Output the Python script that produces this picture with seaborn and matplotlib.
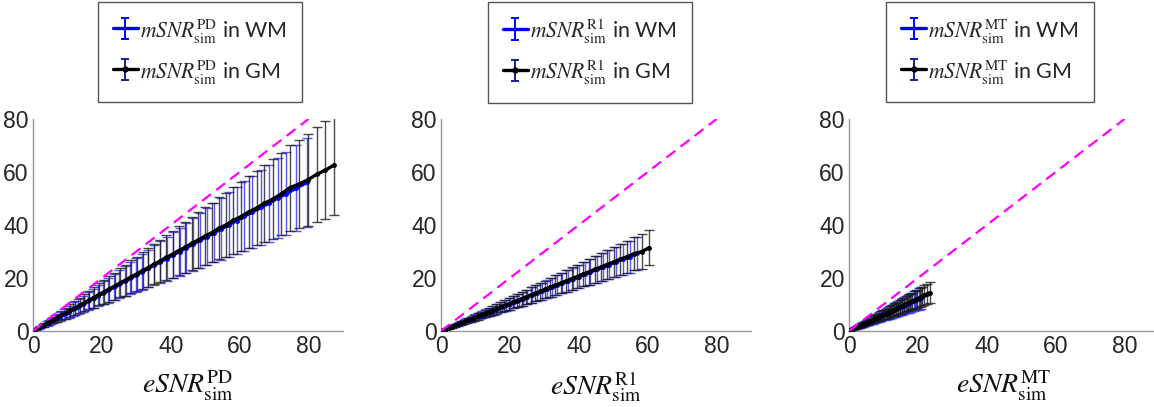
import numpy as np
import pandas as pd
import matplotlib
matplotlib.use("Agg")
import matplotlib.pyplot as plt
import seaborn as sns

# ---- PD contrast -------------------------------------------------------
pd_wm_x = [0.6, 1.7, 2.9, 4.1, 5.3, 6.5, 7.8, 9.1, 10.4, 11.7, 13.1, 14.5, 15.9, 17.4,
           18.9, 20.4, 21.9, 23.5, 25.1, 26.7, 28.3, 30.0, 31.7, 33.4, 35.2, 37.0, 38.8,
           40.7, 42.6, 44.5, 46.5, 48.5, 50.5, 52.6, 54.7, 56.9, 59.1, 61.4, 63.7, 66.1,
           68.5, 71.0, 73.5, 76.4, 79.6]
pd_wm_y = [0.42, 1.22, 2.02, 2.91, 3.72, 4.61, 5.47, 6.45, 7.30, 8.29, 9.21, 10.26, 11.18,
           12.31, 13.28, 14.42, 15.40, 16.61, 17.66, 18.87, 19.91, 21.19, 22.31, 23.60, 24.78,
           26.14, 27.31, 28.74, 29.98, 31.42, 32.72, 34.25, 35.55, 37.14, 38.50, 40.18, 41.60,
           43.35, 44.84, 46.68, 48.20, 50.15, 51.70, 53.95, 56.05]
pd_wm_sd = [0.13, 0.36, 0.62, 0.87, 1.13, 1.38, 1.66, 1.94, 2.22, 2.49, 2.79, 3.09, 3.39,
            3.71, 4.03, 4.35, 4.66, 5.01, 5.35, 5.69, 6.03, 6.39, 6.75, 7.11, 7.50, 7.88, 8.26,
            8.67, 9.07, 9.48, 9.90, 10.33, 10.76, 11.20, 11.65, 12.12, 12.59, 13.08, 13.57,
            14.08, 14.59, 15.12, 15.66, 16.27, 16.95]

pd_gm_x = [0.9, 2.1, 3.3, 4.5, 5.7, 6.9, 8.2, 9.5, 10.8, 12.1, 13.5, 14.9, 16.3, 17.7, 19.2,
           20.7, 22.2, 23.7, 25.3, 26.9, 28.5, 30.1, 31.8, 33.5, 35.2, 36.9, 38.7, 40.5, 42.3,
           44.2, 46.1, 48.0, 50.0, 52.0, 54.0, 56.1, 58.2, 60.4, 62.6, 64.9, 67.2, 69.6, 72.0,
           74.6, 77.3, 79.9, 82.5, 84.9, 87.3]
pd_gm_y = [0.66, 1.48, 2.40, 3.19, 4.12, 4.91, 5.90, 6.76, 7.78, 8.62, 9.71, 10.63, 11.72,
           12.61, 13.80, 14.77, 15.95, 16.90, 18.18, 19.20, 20.48, 21.50, 22.85, 23.92, 25.28,
           26.35, 27.80, 28.93, 30.36, 31.58, 33.10, 34.30, 35.88, 37.15, 38.75, 40.08, 41.78,
           43.16, 44.92, 46.40, 48.22, 49.75, 51.66, 54.10, 55.48, 57.12, 59.20, 60.70, 62.55]
pd_gm_sd = [0.20, 0.46, 0.72, 0.98, 1.24, 1.50, 1.78, 2.06, 2.34, 2.63, 2.93, 3.23, 3.54,
            3.84, 4.17, 4.49, 4.82, 5.14, 5.49, 5.84, 6.18, 6.53, 6.90, 7.27, 7.64, 8.01, 8.40,
            8.79, 9.18, 9.59, 10.00, 10.42, 10.85, 11.28, 11.72, 12.17, 12.63, 13.11, 13.58,
            14.08, 14.58, 15.10, 15.62, 16.19, 16.77, 17.34, 17.90, 18.42, 18.94]

# ---- R1 contrast -------------------------------------------------------
r1_wm_x = [0.5, 1.2, 2.0, 2.8, 3.6, 4.4, 5.3, 6.2, 7.1, 8.0, 9.0, 10.0, 11.0, 12.0, 13.1,
           14.2, 15.3, 16.4, 17.6, 18.8, 20.0, 21.2, 22.5, 23.8, 25.1, 26.5, 27.9, 29.3,
           30.7, 32.2, 33.7, 35.2, 36.8, 38.4, 40.0, 41.7, 43.4, 45.2, 47.0, 48.8, 50.7,
           52.7, 54.8, 57.0]
r1_wm_y = [0.26, 0.63, 1.02, 1.45, 1.84, 2.27, 2.71, 3.20, 3.62, 4.12, 4.60, 5.15, 5.62,
           6.18, 6.70, 7.30, 7.83, 8.44, 9.01, 9.66, 10.24, 10.90, 11.52, 12.24, 12.85, 13.62,
           14.28, 15.06, 15.72, 16.55, 17.26, 18.09, 18.85, 19.73, 20.49, 21.42, 22.23, 23.22,
           24.08, 25.06, 25.98, 27.08, 28.08, 29.27]
r1_wm_sd = [0.06, 0.13, 0.22, 0.31, 0.40, 0.48, 0.58, 0.68, 0.78, 0.88, 0.99, 1.10, 1.21,
            1.32, 1.44, 1.56, 1.68, 1.80, 1.94, 2.07, 2.20, 2.33, 2.48, 2.62, 2.76, 2.92, 3.07,
            3.22, 3.38, 3.54, 3.71, 3.87, 4.05, 4.22, 4.40, 4.59, 4.77, 4.97, 5.17, 5.37, 5.58,
            5.80, 6.03, 6.27]

r1_gm_x = [0.7, 1.5, 2.3, 3.1, 4.0, 4.9, 5.8, 6.7, 7.6, 8.6, 9.6, 10.6, 11.6, 12.7, 13.8,
           14.9, 16.0, 17.2, 18.4, 19.6, 20.8, 22.1, 23.4, 24.7, 26.0, 27.4, 28.8, 30.2, 31.7,
           33.2, 34.7, 36.3, 37.9, 39.5, 41.2, 42.9, 44.6, 46.4, 48.2, 50.1, 52.0, 54.0, 56.1,
           58.3, 60.5]
r1_gm_y = [0.37, 0.77, 1.21, 1.60, 2.10, 2.53, 3.04, 3.46, 3.97, 4.45, 5.01, 5.49, 6.05,
           6.58, 7.20, 7.73, 8.34, 8.92, 9.59, 10.16, 10.85, 11.46, 12.20, 12.81, 13.55,
           14.22, 15.01, 15.67, 16.51, 17.23, 18.07, 18.85, 19.74, 20.50, 21.45, 22.28, 23.22,
           24.10, 25.09, 26.02, 27.08, 28.04, 29.20, 29.95, 31.50]
r1_gm_sd = [0.08, 0.17, 0.26, 0.35, 0.45, 0.55, 0.65, 0.75, 0.85, 0.96, 1.08, 1.19, 1.30,
            1.42, 1.55, 1.67, 1.79, 1.93, 2.06, 2.20, 2.33, 2.48, 2.62, 2.77, 2.91, 3.07, 3.23,
            3.38, 3.55, 3.72, 3.89, 4.07, 4.24, 4.42, 4.61, 4.80, 5.00, 5.20, 5.40, 5.61, 5.82,
            6.05, 6.28, 6.53, 6.78]

# ---- MT contrast -------------------------------------------------------
mt_wm_x = [0.2, 0.7, 1.2, 1.7, 2.2, 2.7, 3.2, 3.7, 4.2, 4.7, 5.2, 5.8, 6.4, 7.0, 7.6, 8.2,
           8.8, 9.4, 10.0, 10.6, 11.2, 11.8, 12.4, 13.0, 13.6, 14.2, 14.8, 15.4, 16.0, 16.7,
           17.4, 18.1, 18.8, 19.5, 20.2, 20.9]
mt_wm_y = [0.13, 0.41, 0.73, 1.01, 1.33, 1.61, 1.93, 2.21, 2.53, 2.81, 3.13, 3.47, 3.85,
           4.19, 4.57, 4.91, 5.29, 5.63, 6.01, 6.35, 6.73, 7.07, 7.45, 7.79, 8.17, 8.51, 8.89,
           9.23, 9.61, 10.01, 10.45, 10.85, 11.29, 11.69, 12.13, 12.53]
mt_wm_sd = [0.04, 0.14, 0.24, 0.34, 0.44, 0.54, 0.64, 0.74, 0.84, 0.94, 1.04, 1.16, 1.28,
            1.40, 1.52, 1.64, 1.76, 1.88, 2.00, 2.12, 2.24, 2.36, 2.48, 2.60, 2.72, 2.84, 2.96,
            3.08, 3.20, 3.34, 3.48, 3.62, 3.76, 3.90, 4.04, 4.18]

mt_gm_x = [0.3, 0.8, 1.3, 1.8, 2.3, 2.8, 3.3, 3.8, 4.3, 4.8, 5.3, 5.8, 6.4, 7.0, 7.6, 8.2,
           8.8, 9.4, 10.0, 10.6, 11.2, 11.8, 12.4, 13.0, 13.6, 14.2, 14.8, 15.4, 16.0, 16.6,
           17.2, 17.8, 18.4, 19.1, 19.8, 20.5, 21.2, 21.9, 22.7, 23.5]
mt_gm_y = [0.19, 0.48, 0.81, 1.10, 1.42, 1.71, 2.04, 2.33, 2.65, 2.94, 3.27, 3.56, 3.95,
           4.30, 4.68, 5.03, 5.42, 5.77, 6.16, 6.51, 6.90, 7.25, 7.64, 7.99, 8.37, 8.72, 9.11,
           9.46, 9.85, 10.20, 10.59, 10.94, 11.33, 11.74, 12.19, 12.60, 13.05, 13.46, 13.97,
           14.45]
mt_gm_sd = [0.05, 0.14, 0.22, 0.31, 0.39, 0.48, 0.56, 0.65, 0.73, 0.82, 0.90, 0.99, 1.09,
            1.19, 1.29, 1.39, 1.50, 1.60, 1.70, 1.80, 1.90, 2.01, 2.11, 2.21, 2.31, 2.41, 2.52,
            2.62, 2.72, 2.82, 2.92, 3.03, 3.13, 3.25, 3.37, 3.49, 3.60, 3.72, 3.86, 4.00]

# identity reference line
ident_x = [0, 80]
ident_y = [0, 80]

contrasts = ["PD", "R1", "MT"]
ticks = [0, 20, 40, 60, 80]

panels = [
    (pd_wm_x, pd_wm_y, pd_wm_sd, pd_gm_x, pd_gm_y, pd_gm_sd),
    (r1_wm_x, r1_wm_y, r1_wm_sd, r1_gm_x, r1_gm_y, r1_gm_sd),
    (mt_wm_x, mt_wm_y, mt_wm_sd, mt_gm_x, mt_gm_y, mt_gm_sd),
]

sns.set_style("white")
plt.rcParams["font.family"] = ["Liberation Sans", "DejaVu Sans"]
plt.rcParams["mathtext.fontset"] = "stix"

W, H = 1154, 407
fig = plt.figure(figsize=(W / 100, H / 100), dpi=100)

ax_left_px = [33, 441, 849]
legend_cx_px = [200, 590, 990]
ax_w_px, ax_top_px, ax_bot_px = 310, 119, 331

WM_COLOR = "#0000ff"
GM_COLOR = "#000000"

for i, (name, data) in enumerate(zip(contrasts, panels)):
    wx, wy, wsd, gx, gy, gsd = data
    ax = fig.add_axes([ax_left_px[i] / W, (H - ax_bot_px) / H,
                       ax_w_px / W, (ax_bot_px - ax_top_px) / H])

    wm = pd.DataFrame({"esnr": wx, "msnr": wy, "sd": wsd})
    gm = pd.DataFrame({"esnr": gx, "msnr": gy, "sd": gsd})

    # error bars (mean +/- SD)
    ax.errorbar(wm["esnr"], wm["msnr"], yerr=wm["sd"], fmt="none",
                ecolor="#3a3aff", elinewidth=1.0, capsize=3.5, capthick=1.0,
                alpha=0.85, zorder=2)
    ax.errorbar(gm["esnr"], gm["msnr"], yerr=gm["sd"], fmt="none",
                ecolor="#1a1a1a", elinewidth=1.0, capsize=3.5, capthick=1.0,
                alpha=0.8, zorder=2.1)

    # mean curves
    sns.lineplot(data=wm, x="esnr", y="msnr", ax=ax, color=WM_COLOR, lw=2.4,
                 marker="o", markersize=3.5, markeredgewidth=0, sort=False,
                 errorbar=None, legend=False, zorder=3)
    sns.lineplot(data=gm, x="esnr", y="msnr", ax=ax, color=GM_COLOR, lw=2.4,
                 marker="o", markersize=3.5, markeredgewidth=0, sort=False,
                 errorbar=None, legend=False, zorder=3.1)

    # identity line
    sns.lineplot(x=ident_x, y=ident_y, ax=ax, color="#ff00ff", lw=1.6,
                 linestyle=(0, (5, 3)), legend=False, zorder=4)

    # legend proxies placed outside the visible range
    h_wm = ax.errorbar([-50], [-50], yerr=[1], fmt="-", color=WM_COLOR, lw=2.4,
                       ecolor=WM_COLOR, elinewidth=1.4, capsize=3, capthick=1.4)
    h_gm = ax.errorbar([-50], [-50], yerr=[1], fmt="-o", color=GM_COLOR, lw=2.4,
                       markersize=3.5, ecolor="#1c1c8c", elinewidth=1.4,
                       capsize=3, capthick=1.4)
    lab = r"$mSNR^{\mathrm{%s}}_{\mathrm{sim}}$" % name
    leg = ax.legend([h_wm, h_gm], [lab + " in WM", lab + " in GM"],
                    loc="upper center",
                    bbox_to_anchor=(legend_cx_px[i] / W, 1 - 2 / H),
                    bbox_transform=fig.transFigure,
                    prop={"family": ["Lato", "DejaVu Sans"], "size": 15.5},
                    frameon=True, fancybox=False, framealpha=1,
                    edgecolor="#555555", handlelength=1.15, handletextpad=0.1,
                    handleheight=1.2, borderpad=0.72, labelspacing=0.6,
                    borderaxespad=0)
    leg.get_frame().set_linewidth(1.0)

    ax.set_xlim(0, 90)
    ax.set_ylim(0, 80)
    ax.set_xticks(ticks)
    ax.set_yticks(ticks)
    ax.tick_params(axis="both", direction="in", length=4, width=0.8,
                   color="#888888", labelsize=16.5, labelcolor="#262626", pad=3)
    for side in ("top", "right"):
        ax.spines[side].set_visible(False)
    for side in ("left", "bottom"):
        ax.spines[side].set_color("#999999")
        ax.spines[side].set_linewidth(1.0)

    ax.set_xlabel(r"$eSNR^{\mathrm{%s}}_{\mathrm{sim}}$" % name, fontsize=20,
                  labelpad=8, color="#111111")
    ax.set_ylabel("")

fig.savefig("out.png", dpi=100)
